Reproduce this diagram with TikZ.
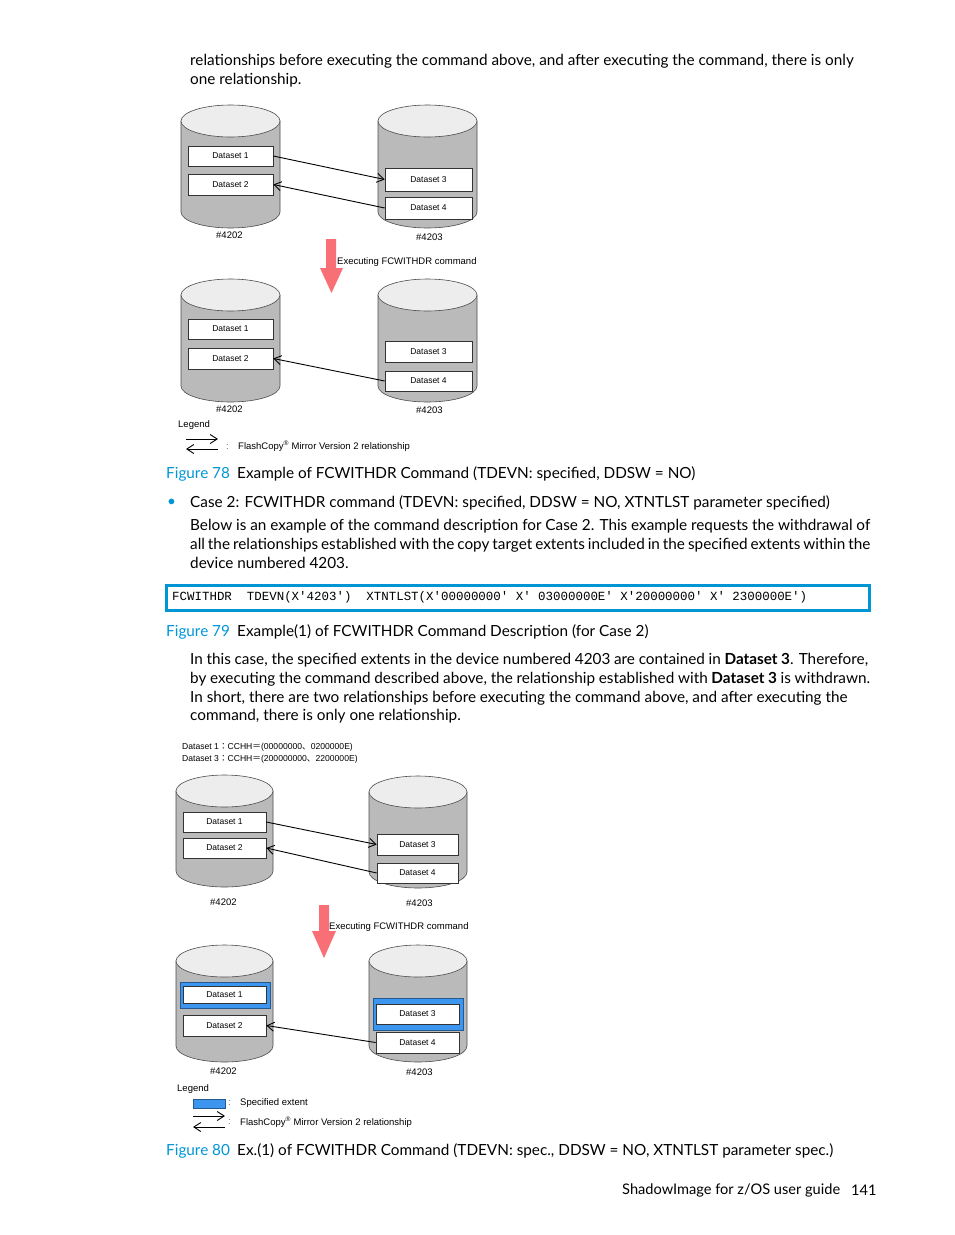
\documentclass[tikz,border=0pt]{standalone}
\usepackage{fontspec}
\setmainfont{Lato}
\setmonofont{Liberation Mono}
\newfontfamily\figfont{Liberation Sans}
\newfontfamily\cjk{Noto Sans CJK JP}
\usetikzlibrary{arrows.meta}
\definecolor{hpblue}{RGB}{0,150,214}
\definecolor{extblue}{RGB}{60,150,240}
\definecolor{execred}{RGB}{248,112,118}
\newcommand{\bodyfont}{\fontsize{15.3}{18}\selectfont}
\newcommand{\drum}[4]{% centre x, top y, half width, height
  \filldraw[drumside] ({#1-#3},{#2+16}) -- ({#1-#3},{#2+#4-16})
    arc[start angle=180, end angle=360, x radius=#3pt, y radius=16pt]
    -- ({#1+#3},{#2+16}) -- cycle;
  \filldraw[drumtop] (#1,{#2+16}) ellipse[x radius=#3pt, y radius=16pt];
}
\begin{document}
\begin{tikzpicture}[x=1pt, y=-1pt,
    body/.style={anchor=west, inner sep=0, font=\bodyfont},
    figno/.style={body, text=hpblue},
    drumside/.style={draw=black!70, fill=black!27, line width=0.6},
    drumtop/.style={draw=black!70, fill=black!7, line width=0.6},
    dset/.style={draw=black!80, fill=white, inner sep=0, line width=0.6, font=\figfont\fontsize{8.5}{10}\selectfont},
    ext/.style={fill=extblue, draw=extblue!60!black, line width=0.5, inner sep=0},
    lbl/.style={anchor=west, inner sep=0, font=\figfont\fontsize{9.5}{11}\selectfont},
    rel/.style={-{Straight Barb[length=7pt, width=9pt]}, line width=0.9},
    execarrow/.style={fill=execred}]
\useasboundingbox (0,0) rectangle (954,1235);

% text above Figure 78
\node[body] (t1) at (190,61) {relationships before executing the command above, and after executing the command, there is only};
\node[body] (t2) at (190,80) {one relationship.};

% Figure 78, before
\drum{230.5}{105}{49.5}{123}
\drum{427.5}{105}{49.5}{123}
\node[dset, minimum width=85, minimum height=20] (a1) at (230.5,156) {Dataset 1};
\node[dset, minimum width=85, minimum height=21] (a2) at (230.5,184.5) {Dataset 2};
\node[dset, minimum width=87, minimum height=23] (a3) at (428.5,179.5) {Dataset 3};
\node[dset, minimum width=87, minimum height=22] (a4) at (428.5,208) {Dataset 4};
\node[lbl] (a5) at (216,235) {\#4202};
\node[lbl] (a6) at (416,237) {\#4203};
\draw[rel] (a1.east) -- (a3.west);
\draw[rel] (a4.west) -- (a2.east);

\fill[execarrow] (326,239) -- (336,239) -- (336,268) -- (343,268) -- (331.5,293) -- (320,268) -- (326,268) -- cycle;
\node[lbl] (x1) at (337,262) {Executing FCWITHDR command};

% Figure 78, after
\drum{230.5}{279}{49.5}{123}
\drum{427.5}{279}{49.5}{123}
\node[dset, minimum width=85, minimum height=20] (b1) at (230.5,329) {Dataset 1};
\node[dset, minimum width=85, minimum height=21] (b2) at (230.5,358.5) {Dataset 2};
\node[dset, minimum width=87, minimum height=21] (b3) at (428.5,351.5) {Dataset 3};
\node[dset, minimum width=87, minimum height=20] (b4) at (428.5,381) {Dataset 4};
\node[lbl] (b5) at (216,409) {\#4202};
\node[lbl] (b6) at (416,410) {\#4203};
\draw[rel] (b4.west) -- (b2.east);

% legend
\node[lbl] (g1) at (178,425) {Legend};
\coordinate (g2) at (186,439);
\coordinate (g3) at (218,439);
\coordinate (g4) at (218,449);
\coordinate (g5) at (186,449);
\draw[rel] (g2) -- (g3);
\draw[rel] (g4) -- (g5);
\node[lbl, text=black!60] (g6) at (226,447) {:};
\node[lbl] (g7) at (238,446) {FlashCopy\textsuperscript{®} Mirror Version 2 relationship};

\node[figno] (c1) at (166,474) {Figure 78};
\node[body] (c2) at (237,474) {Example of FCWITHDR Command (TDEVN: specified, DDSW = NO)};

% Case 2
\node[body, text=hpblue] (t3) at (167,503) {•};
\node[body] (t4) at (190,503) {Case 2: FCWITHDR command (TDEVN: specified, DDSW = NO, XTNTLST parameter specified)};
\node[body] (t5) at (190,526) {\makebox[680pt][s]{Below is an example of the command description for Case 2. This example requests the withdrawal of}};
\node[body] (t6) at (190,545) {\makebox[680pt][s]{all the relationships established with the copy target extents included in the specified extents within the}};
\node[body] (t7) at (190,563) {device numbered 4203.};

\node[draw=hpblue, line width=3, minimum width=703, minimum height=25, inner sep=0] (k1) at (517.5,597.5) {};
\node[anchor=west, inner sep=0, font=\ttfamily\fontsize{12.45}{14}\selectfont] (k2) at (172,597)
  {FCWITHDR~~TDEVN(X'4203')~~XTNTLST(X'00000000'~X'~03000000E'~X'20000000'~X'~2300000E')};

\node[figno] (c3) at (166,632) {Figure 79};
\node[body] (c4) at (237,632) {Example(1) of FCWITHDR Command Description (for Case 2)};

\node[body] (t8) at (190,660) {\makebox[678pt][s]{In this case, the specified extents in the device numbered 4203 are contained in \textbf{Dataset 3}. Therefore,}};
\node[body] (t9) at (190,679) {\makebox[680pt][s]{by executing the command described above, the relationship established with \textbf{Dataset 3} is withdrawn.}};
\node[body] (t10) at (190,698) {In short, there are two relationships before executing the command above, and after executing the};
\node[body] (t11) at (190,716) {command, there is only one relationship.};

% Figure 80, before
\node[lbl, font=\figfont\fontsize{8.6}{10}\selectfont] (e1) at (182,747) {Dataset 1{\cjk ：}CCHH{\cjk ＝}(00000000{\cjk 、}0200000E)};
\node[lbl, font=\figfont\fontsize{8.6}{10}\selectfont] (e2) at (182,759) {Dataset 3{\cjk ：}CCHH{\cjk ＝}(200000000{\cjk 、}2200000E)};
\drum{224.5}{775}{48.5}{112}
\drum{418}{776}{49}{112}
\node[dset, minimum width=83, minimum height=20] (d1) at (224.5,822) {Dataset 1};
\node[dset, minimum width=83, minimum height=20] (d2) at (224.5,848) {Dataset 2};
\node[dset, minimum width=81, minimum height=21] (d3) at (417.5,844.5) {Dataset 3};
\node[dset, minimum width=81, minimum height=20] (d4) at (417.5,873) {Dataset 4};
\node[lbl] (d5) at (210,902) {\#4202};
\node[lbl] (d6) at (406,903) {\#4203};
\draw[rel] (d1.east) -- (d3.west);
\draw[rel] (d4.west) -- (d2.east);

\fill[execarrow] (319,905) -- (329,905) -- (329,931) -- (336,931) -- (324,958) -- (312,931) -- (319,931) -- cycle;
\node[lbl] (x2) at (329,927) {Executing FCWITHDR command};

% Figure 80, after
\drum{224.5}{945}{48.5}{117}
\drum{418}{945}{49}{117}
\node[ext, minimum width=90, minimum height=26] (s1) at (225,995) {};
\node[ext, minimum width=90, minimum height=32] (s3) at (418,1014) {};
\node[dset, minimum width=83, minimum height=17] (f1) at (224.5,995) {Dataset 1};
\node[dset, minimum width=83, minimum height=21] (f2) at (224.5,1025.5) {Dataset 2};
\node[dset, minimum width=83, minimum height=20] (f3) at (417.5,1014) {Dataset 3};
\node[dset, minimum width=83, minimum height=21] (f4) at (417.5,1042.5) {Dataset 4};
\node[lbl] (f5) at (210,1071) {\#4202};
\node[lbl] (f6) at (406,1072) {\#4203};
\draw[rel] (f4.west) -- (f2.east);

% legend
\node[lbl] (h1) at (177,1089) {Legend};
\node[ext, minimum width=32, minimum height=9] (h2) at (209,1103.5) {};
\node[lbl, text=black!60] (h3) at (228,1103) {:};
\node[lbl] (h4) at (240,1103) {Specified extent};
\coordinate (h5) at (193,1116);
\coordinate (h6) at (225,1116);
\coordinate (h7) at (225,1127);
\coordinate (h8) at (193,1127);
\draw[rel] (h5) -- (h6);
\draw[rel] (h7) -- (h8);
\node[lbl, text=black!60] (h9) at (228,1122) {:};
\node[lbl] (h10) at (240,1122) {FlashCopy\textsuperscript{®} Mirror Version 2 relationship};

\node[figno] (c5) at (166,1151) {Figure 80};
\node[body] (c6) at (237,1151) {Ex.(1) of FCWITHDR Command (TDEVN: spec., DDSW = NO, XTNTLST parameter spec.)};

\node[body, font=\fontsize{14.6}{17}\selectfont] (p1) at (622,1190) {ShadowImage for z/OS user guide};
\node[body, font=\fontsize{14.6}{17}\selectfont] (p2) at (851,1190) {141};
\end{tikzpicture}
\end{document}
